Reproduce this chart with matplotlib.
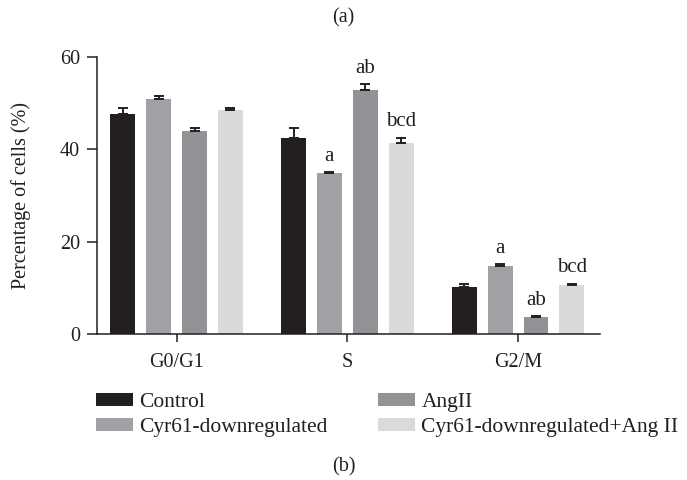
import numpy as np
import matplotlib
matplotlib.use('Agg')
import matplotlib.pyplot as plt
from matplotlib.patches import Patch

plt.rcParams['font.family'] = ['Liberation Serif', 'DejaVu Serif']

# cell cycle phases and treatment groups
phases = ['G0/G1', 'S', 'G2/M']
groups = ['Control', 'Cyr61-downregulated', 'AngII', 'Cyr61-downregulated+Ang II']
colors = ['#231f20', '#a0a1a4', '#929396', '#d9dadc']

# mean percentage per group (rows) for each phase (columns)
means = [
    [47.6, 42.5, 10.2],
    [50.9, 34.9, 14.7],
    [43.9, 52.9, 3.6],
    [48.4, 41.4, 10.5],
]
errs = [
    [1.2, 2.0, 0.6],
    [0.7, 0.2, 0.4],
    [0.7, 1.1, 0.2],
    [0.4, 1.1, 0.4],
]
# significance letters per group/phase
sig = [
    ['', '', ''],
    ['', 'a', 'a'],
    ['', 'ab', 'ab'],
    ['', 'bcd', 'bcd'],
]

ink = '#231f20'

fig = plt.figure(figsize=(6.87, 4.8), dpi=100)
ax = fig.add_axes([0.1408, 0.3042, 0.7326, 0.5777])

x = np.arange(len(phases))
pitch = 0.21
width = 0.146
for i, g in enumerate(groups):
    pos = x + (i - 1.5) * pitch
    ax.bar(pos, means[i], width, color=colors[i], zorder=2)
    ax.errorbar(pos, means[i], yerr=[np.zeros(len(phases)), errs[i]], fmt='none',
                ecolor=ink, elinewidth=1.4, capsize=3.6, capthick=1.4, zorder=3)
    for j in range(len(phases)):
        if sig[i][j]:
            ax.annotate(sig[i][j], (pos[j], means[i][j] + errs[i][j]),
                        xytext=(0, 8), textcoords='offset points',
                        ha='center', va='baseline', fontsize=15, color=ink)

ax.set_xlim(-0.468, 2.48)
ax.set_ylim(0, 60)
ax.set_yticks([0, 20, 40, 60])
ax.set_xticks(x)
ax.set_xticklabels(phases)
ax.set_ylabel('Percentage of cells (%)', fontsize=14.5, color=ink)
ax.yaxis.set_label_coords(-0.13, 0.5)
ax.tick_params(axis='both', labelsize=14.5, colors=ink, width=1.1, direction='out')
ax.tick_params(axis='y', length=7.2, pad=5)
ax.tick_params(axis='x', length=6, pad=8)
for s in ['top', 'right']:
    ax.spines[s].set_visible(False)
for s in ['left', 'bottom']:
    ax.spines[s].set_linewidth(1.1)
    ax.spines[s].set_color(ink)

handles = [Patch(facecolor=c, edgecolor='none') for c in colors]
fig.legend(handles, groups, ncol=2, loc='upper left', bbox_to_anchor=(0.1397, 0.1815),
           frameon=False, fontsize=15.5, handlelength=1.72, handleheight=0.57,
           handletextpad=0.28, columnspacing=2.37, labelspacing=0.26,
           borderpad=0, borderaxespad=0, labelcolor=ink)

fig.text(0.5, 1 - 18 / 480, '(a)', ha='center', va='center', fontsize=14.5, color=ink)
fig.text(0.5, 1 - 467 / 480, '(b)', ha='center', va='center', fontsize=14.5, color=ink)

fig.savefig('out.png', dpi=100)
